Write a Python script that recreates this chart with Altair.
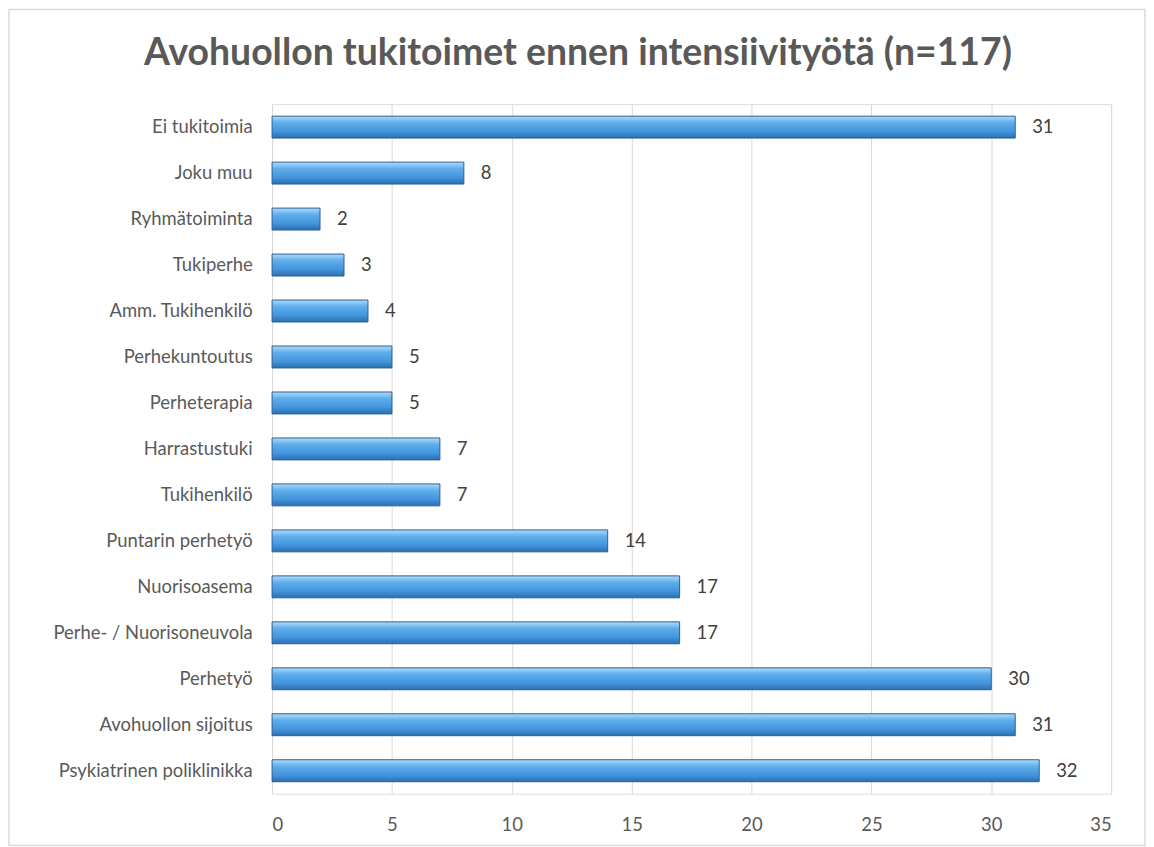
import altair as alt
import pandas as pd

categories = ["Ei tukitoimia", "Joku muu", "Ryhmätoiminta", "Tukiperhe", "Amm. Tukihenkilö",
              "Perhekuntoutus", "Perheterapia", "Harrastustuki", "Tukihenkilö", "Puntarin perhetyö",
              "Nuorisoasema", "Perhe- / Nuorisoneuvola", "Perhetyö", "Avohuollon sijoitus",
              "Psykiatrinen poliklinikka"]
values = [31, 8, 2, 3, 4, 5, 5, 7, 7, 14, 17, 17, 30, 31, 32]
x_ticks = [0, 5, 10, 15, 20, 25, 30, 35]
title_text = "Avohuollon tukitoimet ennen intensiivityötä (n=117)"

df = pd.DataFrame({"cat": categories, "val": values})
tdf = pd.DataFrame({"t": [title_text]})

FONT = "Lato"
W, H = 842, 692

grad = alt.Gradient(
    gradient="linear", x1=0, y1=0, x2=0, y2=1,
    stops=[alt.GradientStop(color="#B0DBF8", offset=0),
           alt.GradientStop(color="#5EAEEC", offset=0.3),
           alt.GradientStop(color="#4394DC", offset=0.7),
           alt.GradientStop(color="#2C6FB2", offset=1)],
)

y_enc = alt.Y("cat:N", sort=categories, title=None,
              axis=alt.Axis(labelFontSize=18.5, labelColor="#595959", labelFont=FONT,
                            ticks=False, domain=False, labelPadding=20, grid=False,
                            labelLimit=400))
x_enc = alt.X("val:Q", scale=alt.Scale(domain=[0, 35], nice=False), title=None,
              axis=alt.Axis(values=x_ticks, labelFontSize=18.5, labelColor="#595959",
                            labelFont=FONT, ticks=False, domain=False, labelPadding=22,
                            grid=True, gridColor="#D9D9D9", gridWidth=1))

bars = alt.Chart(df).mark_bar(size=22, color=grad, stroke="#2B5E94", strokeWidth=1).encode(
    y=y_enc, x=x_enc)

labels = alt.Chart(df).mark_text(align="left", dx=17, fontSize=18.5, font=FONT,
                                 color="#404040").encode(
    y=alt.Y("cat:N", sort=categories), x="val:Q", text="val:Q")

title = alt.Chart(tdf).mark_text(fontSize=37.5, font=FONT, fontWeight="bold", color="#595959",
                                 align="center", baseline="middle").encode(
    x=alt.value(307), y=alt.value(-50), text="t:N")

frame = alt.Chart(tdf).mark_rect(fill=None, stroke="#D9D9D9", strokeWidth=1.5).encode(
    x=alt.value(-264), x2=alt.value(W + 34), y=alt.value(-95), y2=alt.value(H + 52))

chart = alt.layer(bars, labels, title, frame).properties(
    width=W, height=H,
    autosize=alt.AutoSizeParams(type="none"),
    padding={"left": 265, "top": 95, "right": 35, "bottom": 52},
).configure_view(stroke=None).configure(background="white")

chart.save("out.html", embed_options={"renderer": "svg", "actions": False})
